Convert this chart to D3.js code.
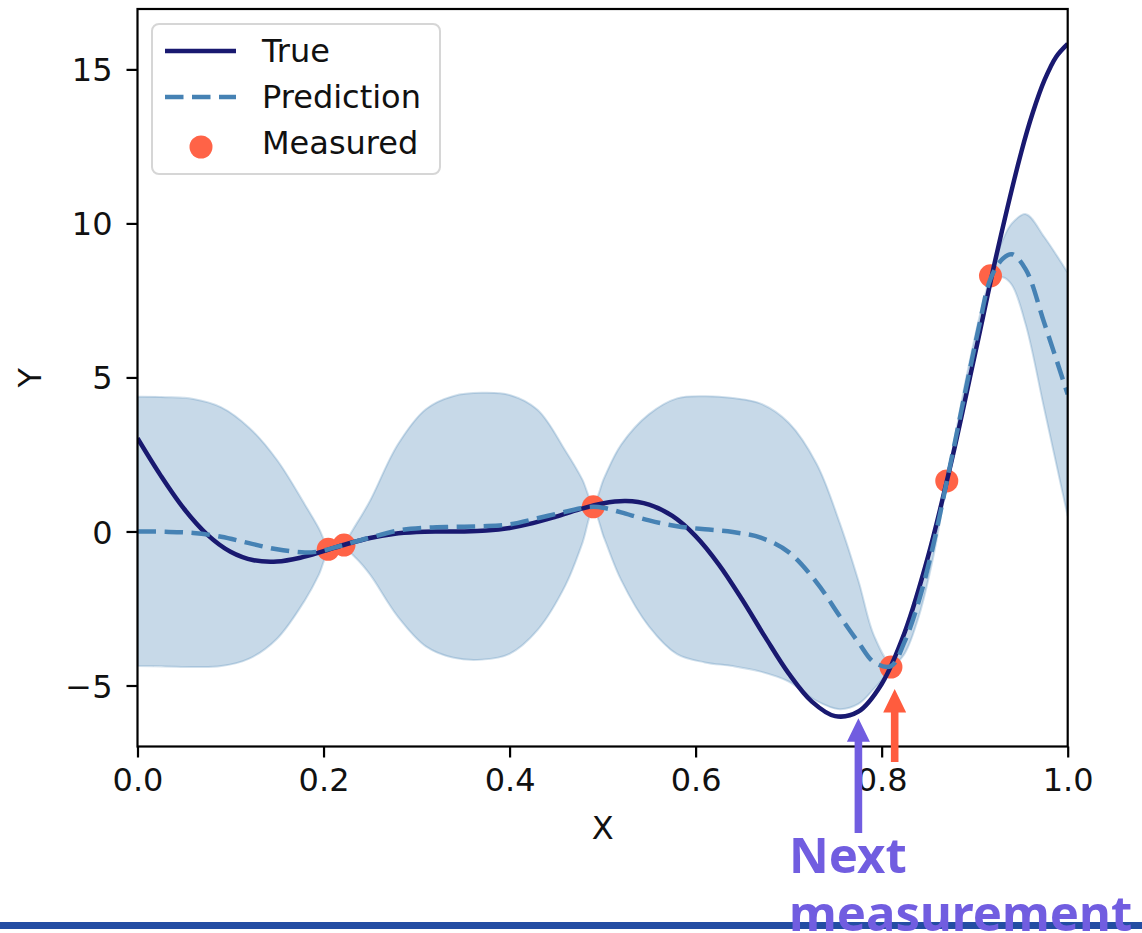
<!DOCTYPE html>
<html>
<head>
<meta charset="utf-8">
<script src="https://cdn.jsdelivr.net/npm/d3@7"></script>
<style>
html,body{margin:0;padding:0;background:#fff;}
svg{display:block;}
</style>
</head>
<body>
<svg id="chart" width="1142" height="933"></svg>
<script>
// ---------- data ----------
const xTicks = [0.0, 0.2, 0.4, 0.6, 0.8, 1.0];
const yTicks = [-5, 0, 5, 10, 15];
const xDomain = [0, 1];
const yDomain = [-6.98, 16.96];

// true function
const trueX = [0, 0.025, 0.05, 0.075, 0.1, 0.125, 0.15, 0.175, 0.2, 0.225, 0.25, 0.275, 0.3, 0.325, 0.35, 0.375, 0.4, 0.425, 0.45, 0.475, 0.5, 0.525, 0.55, 0.575, 0.6, 0.625, 0.65, 0.675, 0.7, 0.725, 0.75, 0.775, 0.8, 0.825, 0.85, 0.875, 0.9, 0.925, 0.95, 0.9625, 0.975, 0.9875, 1.0];
const trueY = [3.027, 1.813, 0.738, -0.100, -0.657, -0.935, -0.978, -0.854, -0.640, -0.407, -0.210, -0.079, -0.016, 0.000, 0.002, 0.030, 0.115, 0.270, 0.483, 0.717, 0.909, 0.986, 0.871, 0.503, -0.150, -1.074, -2.209, -3.439, -4.606, -5.522, -5.993, -5.845, -4.949, -3.254, -0.800, 2.272, 5.712, 9.187, 12.303, 13.598, 14.648, 15.405, 15.830];

// prediction mean and confidence band
const predX =     [0.000, 0.030, 0.060, 0.090, 0.120, 0.150, 0.180, 0.195, 0.205, 0.213, 0.222, 0.235, 0.250, 0.280, 0.310, 0.340, 0.370, 0.400, 0.430, 0.460, 0.478, 0.490, 0.502, 0.520, 0.550, 0.580, 0.610, 0.640, 0.670, 0.700, 0.730, 0.755, 0.775, 0.792, 0.810, 0.825, 0.840, 0.855, 0.870, 0.890, 0.905, 0.917, 0.930, 0.940, 0.955, 0.975, 1.000];
const predMean =  [0.00, -0.01, -0.05, -0.17, -0.38, -0.58, -0.68, -0.65, -0.58, -0.51, -0.44, -0.32, -0.20, 0.03, 0.12, 0.15, 0.17, 0.23, 0.43, 0.64, 0.76, 0.80, 0.76, 0.62, 0.36, 0.17, 0.07, -0.02, -0.20, -0.67, -1.65, -2.75, -3.60, -4.25, -4.37, -3.55, -2.25, -0.50, 1.62, 4.55, 6.70, 8.20, 8.85, 9.00, 8.50, 6.75, 4.45];
const predLower = [-4.37, -4.38, -4.40, -4.37, -4.13, -3.48, -2.23, -1.40, -0.68, -0.59, -0.54, -0.87, -1.40, -2.77, -3.73, -4.10, -4.16, -3.97, -3.20, -1.75, -0.40, 0.70, -0.24, -1.58, -3.09, -3.98, -4.25, -4.37, -4.55, -4.87, -5.50, -5.77, -5.60, -5.10, -4.47, -3.95, -2.75, -0.90, 1.52, 4.25, 6.45, 8.10, 8.25, 8.00, 6.70, 3.95, 0.50];
const predUpper = [4.37, 4.36, 4.30, 4.03, 3.37, 2.32, 0.87, 0.10, -0.48, -0.43, -0.34, 0.23, 1.00, 2.83, 3.97, 4.40, 4.50, 4.43, 3.95, 2.62, 1.70, 0.90, 1.76, 2.82, 3.81, 4.32, 4.39, 4.33, 4.15, 3.53, 2.20, 0.27, -1.60, -3.40, -4.27, -3.15, -1.75, -0.10, 1.72, 4.85, 6.95, 8.30, 9.45, 10.00, 10.30, 9.55, 8.40];

// measured points
const measX = [0.205, 0.222, 0.490, 0.810, 0.870, 0.917];
const measY = [-0.58, -0.44, 0.80, -4.40, 1.64, 8.30];

// legend entries
const legendLabels = ["True", "Prediction", "Measured"];

// annotation ("next measurement" arrows)
const arrowX = [0.775, 0.814];
const arrowTail = [-9.79, -7.48];
const arrowTip = [-6.06, -5.11];
const noteLines = ["Next", "measurement"];

// ---------- drawing ----------
const svg = d3.select("#chart");
const L = 137.5, R = 1067.7, T = 9, B = 746.5;
const x = d3.scaleLinear().domain(xDomain).range([L, R]);
const y = d3.scaleLinear().domain(yDomain).range([B, T]);

const font = "'DejaVu Sans', sans-serif";
const C_TRUE = "#191970", C_PRED = "#4682b4", C_MEAS = "#ff6347";
const C_NEXT = "#715de0", C_ARROW2 = "#ff5c3e";

svg.append("defs").append("clipPath").attr("id", "clip")
  .append("rect").attr("x", L).attr("y", T).attr("width", R - L).attr("height", B - T);

const plot = svg.append("g").attr("clip-path", "url(#clip)");

const band = predX.map((d, i) => ({x: d, lo: predLower[i], hi: predUpper[i], m: predMean[i]}));
const area = d3.area().x(d => x(d.x)).y0(d => y(d.lo)).y1(d => y(d.hi)).curve(d3.curveCatmullRom.alpha(0.5));
plot.append("path").datum(band).attr("d", area)
  .attr("fill", C_PRED).attr("fill-opacity", 0.3)
  .attr("stroke", C_PRED).attr("stroke-opacity", 0.25).attr("stroke-width", 2);

plot.selectAll("circle.meas").data(measX.map((d, i) => ({x: d, y: measY[i]})))
  .join("circle").attr("class", "meas")
  .attr("cx", d => x(d.x)).attr("cy", d => y(d.y)).attr("r", 11.5)
  .attr("fill", C_MEAS);

const trueData = trueX.map((d, i) => ({x: d, y: trueY[i]}));
plot.append("path").datum(trueData)
  .attr("d", d3.line().x(d => x(d.x)).y(d => y(d.y)).curve(d3.curveCatmullRom.alpha(0.5)))
  .attr("fill", "none").attr("stroke", C_TRUE).attr("stroke-width", 4.5);

plot.append("path").datum(band)
  .attr("d", d3.line().x(d => x(d.x)).y(d => y(d.m)).curve(d3.curveCatmullRom.alpha(0.5)))
  .attr("fill", "none").attr("stroke", C_PRED).attr("stroke-width", 4.5)
  .attr("stroke-dasharray", "18.5 8.5");

// axes
const fmtY = d => d < 0 ? "\u2212" + Math.abs(d) : String(d);
const gx = svg.append("g").attr("transform", `translate(0,${B})`)
  .call(d3.axisBottom(x).tickValues(xTicks).tickFormat(d3.format(".1f")).tickSize(11).tickPadding(11));
const gy = svg.append("g").attr("transform", `translate(${L},0)`)
  .call(d3.axisLeft(y).tickValues(yTicks).tickFormat(fmtY).tickSize(11).tickPadding(14));
[gx, gy].forEach(g => {
  g.select(".domain").remove();
  g.selectAll(".tick line").attr("stroke", "#000").attr("stroke-width", 2.2);
  g.selectAll(".tick text").attr("font-family", font).attr("font-size", 32).attr("fill", "#111");
});
gy.selectAll(".tick text").attr("dy", "0.36em");

svg.append("rect").attr("x", L).attr("y", T).attr("width", R - L).attr("height", B - T)
  .attr("fill", "none").attr("stroke", "#000").attr("stroke-width", 2.2);

svg.append("text").attr("x", (L + R) / 2).attr("y", 839).attr("text-anchor", "middle")
  .attr("font-family", font).attr("font-size", 32).attr("fill", "#111").text("X");
svg.append("text").attr("transform", `translate(41,${(T + B) / 2}) rotate(-90)`)
  .attr("text-anchor", "middle").attr("font-family", font).attr("font-size", 32).attr("fill", "#111").text("Y");

// legend
const lg = svg.append("g");
lg.append("rect").attr("x", 152).attr("y", 24).attr("width", 288).attr("height", 150).attr("rx", 7)
  .attr("fill", "#fff").attr("fill-opacity", 0.8).attr("stroke", "#d6d6d6").attr("stroke-width", 2);
lg.append("line").attr("x1", 165).attr("x2", 236).attr("y1", 51).attr("y2", 51)
  .attr("stroke", C_TRUE).attr("stroke-width", 4.5);
lg.append("line").attr("x1", 165).attr("x2", 236).attr("y1", 97).attr("y2", 97)
  .attr("stroke", C_PRED).attr("stroke-width", 4.5).attr("stroke-dasharray", "18.5 8.5");
lg.append("circle").attr("cx", 201).attr("cy", 147).attr("r", 11.5).attr("fill", C_MEAS);
lg.selectAll("text.lab").data(legendLabels).join("text").attr("class", "lab")
  .attr("x", 262).attr("y", (d, i) => 62 + i * 46)
  .attr("font-family", font).attr("font-size", 32).attr("fill", "#111").text(d => d);

// annotation
const colors = [C_NEXT, C_ARROW2];
arrowX.forEach((ax, i) => {
  const cx = x(ax), yt = y(arrowTail[i]), yp = y(arrowTip[i]);
  const headLen = 23.5, headHalf = 11.5, shaftHalf = 3.8;
  const yb = yp + headLen;
  svg.append("path")
    .attr("d", `M${cx - shaftHalf},${yt} L${cx - shaftHalf},${yb} L${cx - headHalf},${yb} L${cx},${yp} L${cx + headHalf},${yb} L${cx + shaftHalf},${yb} L${cx + shaftHalf},${yt} Z`)
    .attr("fill", colors[i]);
});

svg.append("rect").attr("x", 0).attr("y", 922).attr("width", 1142).attr("height", 7).attr("fill", "#234da3");

svg.selectAll("text.note").data(noteLines).join("text").attr("class", "note")
  .attr("x", 789).attr("y", (d, i) => 873 + i * 58)
  .attr("font-family", "'Noto Sans', sans-serif").attr("font-weight", "bold").attr("font-size", 49)
  .attr("fill", C_NEXT).text(d => d);
</script>
</body>
</html>
